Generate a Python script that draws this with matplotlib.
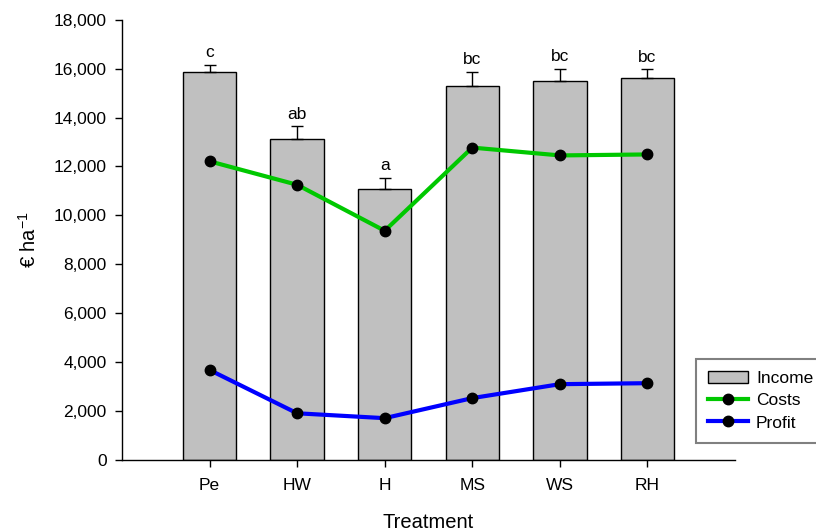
import numpy as np
import matplotlib.pyplot as plt
from matplotlib.patches import Patch
from matplotlib.lines import Line2D

plt.rcParams['font.family'] = ['Liberation Sans', 'DejaVu Sans']
plt.rcParams['mathtext.default'] = 'regular'

treatments = ["Pe", "HW", "H", "MS", "WS", "RH"]
income = [15880, 13120, 11070, 15270, 15500, 15610]
income_err = [280, 530, 470, 610, 500, 370]
costs = [12210, 11250, 9370, 12770, 12450, 12490]
profit = [3680, 1910, 1710, 2530, 3100, 3140]
letters = ["c", "ab", "a", "bc", "bc", "bc"]

fig = plt.figure(figsize=(8.16, 5.31), dpi=100)
ax = fig.add_axes([0.1495, 0.1337, 0.7512, 0.8293])

x = np.arange(len(treatments))
zeros = np.zeros(len(x))
ax.bar(x, income, width=0.61, color="#c0c0c0", edgecolor="black", linewidth=1.0, zorder=2)
ax.errorbar(x, income, yerr=[zeros, income_err], fmt="none", ecolor="black",
            elinewidth=1.0, capsize=4.5, capthick=1.0, zorder=2)
for xi, top, lab in zip(x, np.add(income, income_err), letters):
    ax.text(xi, top + 180, lab, ha="center", va="bottom", fontsize=12.5)

ax.plot(x, costs, color="#00c800", lw=3, marker="o", mfc="black", mec="black", ms=7.5, zorder=3)
ax.plot(x, profit, color="#0000ff", lw=3, marker="o", mfc="black", mec="black", ms=7.5, zorder=3)

ax.set_xlim(-1, 6)
ax.set_ylim(0, 18000)
ax.set_yticks(np.arange(0, 18001, 2000))
ax.set_yticklabels([f"{v:,}" for v in range(0, 18001, 2000)])
ax.set_xticks(x)
ax.set_xticklabels(treatments)
ax.tick_params(direction="out", length=5, width=1, labelsize=12.5, pad=6)
ax.tick_params(axis="x", pad=8)
for s in ["top", "right"]:
    ax.spines[s].set_visible(False)
for s in ["left", "bottom"]:
    ax.spines[s].set_linewidth(1)

ax.set_xlabel("Treatment", fontsize=14.5, labelpad=14)
ax.set_ylabel("€ ha$^{-1}$", fontsize=14.5, labelpad=10)

handles = [
    Patch(facecolor="#c0c0c0", edgecolor="black", linewidth=1.0),
    Line2D([], [], color="#00c800", lw=3, marker="o", mfc="black", mec="black", ms=7.5),
    Line2D([], [], color="#0000ff", lw=3, marker="o", mfc="black", mec="black", ms=7.5),
]
leg = fig.legend(handles, ["Income", "Costs", "Profit"], loc="upper left",
                 bbox_to_anchor=(696 / 816, 1 - 359 / 531), borderaxespad=0,
                 fontsize=12.5, fancybox=False, framealpha=1, edgecolor="#808080",
                 handlelength=2.3, handletextpad=0.45, labelspacing=0.4, borderpad=0.7)
leg.get_frame().set_linewidth(1.5)

fig.savefig("out.png", dpi=100)
